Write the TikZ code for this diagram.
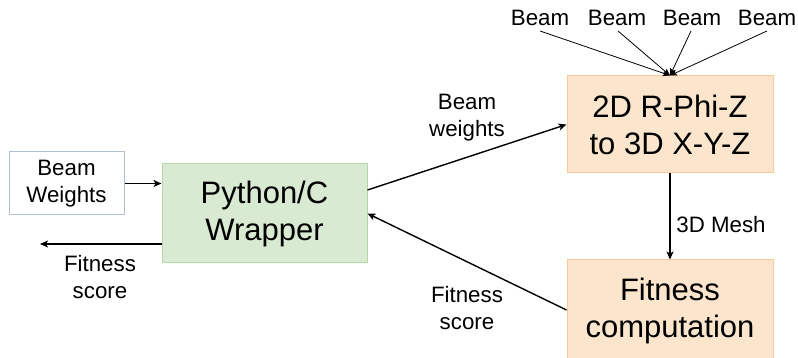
\documentclass[tikz,border=0pt]{standalone}
\usepackage{fontspec}
\setmainfont{Liberation Sans}
\usetikzlibrary{arrows.meta,calc}
\definecolor{greenfill}{HTML}{D9EAD3}
\definecolor{greenline}{HTML}{B6D7A8}
\definecolor{orangefill}{HTML}{FCE5CD}
\definecolor{orangeline}{HTML}{F9CB9C}
\definecolor{bwline}{HTML}{B4BFCC}
\tikzset{
  bigbox/.style={draw, line width=1pt, minimum width=205pt, minimum height=97pt, inner sep=0pt, align=center,
    font=\fontsize{31}{37}\selectfont},
  greenbox/.style={bigbox, fill=greenfill, draw=greenline},
  orangebox/.style={bigbox, fill=orangefill, draw=orangeline},
  smalltext/.style={inner sep=0pt, align=center, font=\fontsize{22.3}{27}\selectfont},
  inbox/.style={smalltext, draw=bwline, line width=1pt, fill=white, minimum width=115pt, minimum height=63pt},
  arr/.style={line width=1.4pt, -{Stealth[length=8pt,width=7pt,inset=2pt]}},
  thinarr/.style={line width=0.8pt, -{Stealth[length=7pt,width=6pt,inset=1.5pt]}}
}
\begin{document}
\begin{tikzpicture}[x=1pt,y=1pt]
\useasboundingbox (0,0) rectangle (798,358);
% boxes
\node[inbox] (bw) at (66.5,174.5) {Beam\\Weights};
\node[greenbox, minimum height=99pt] (py) at (264.5,144.5) {Python/C\\Wrapper};
\node[orangebox, minimum width=206pt] (rp) at (670,233.5) {2D R-Phi-Z\\to 3D X-Y-Z};
\node[orangebox, minimum width=206pt, minimum height=102pt] (fit) at (670,47) {Fitness\\computation};
% beam labels
\node[smalltext] (b1) at (540,340) {Beam};
\node[smalltext] (b2) at (617,340) {Beam};
\node[smalltext] (b3) at (692,340) {Beam};
\node[smalltext] (b4) at (767,340) {Beam};
\foreach \b/\dx in {b1/0,b2/1,b3/-1,b4/0}{
  \draw[thinarr] ([yshift=-5pt,xshift=\dx pt]\b.south) -- (rp.north);
}
% edge labels
\node[smalltext] (lbw) at (467,240) {Beam\\weights};
\node[smalltext] (lfs) at (467,50) {Fitness\\score};
\node[smalltext] (lout) at (100,81) {Fitness\\score};
\node[smalltext] (lmesh) at (721,133) {3D Mesh};
\coordinate (outend) at (40,114);
% connectors
\draw[arr] (bw.east) -- (bw.east -| py.west);
\draw[arr] ([yshift=-30.5pt]py.west) -- (outend);
\draw[arr] ([yshift=23.5pt]py.east) -- (rp.west);
\draw[arr] ([yshift=1pt]fit.west) -- (py.east);
\draw[arr] (rp.south) -- (fit.north);
\end{tikzpicture}
\end{document}
